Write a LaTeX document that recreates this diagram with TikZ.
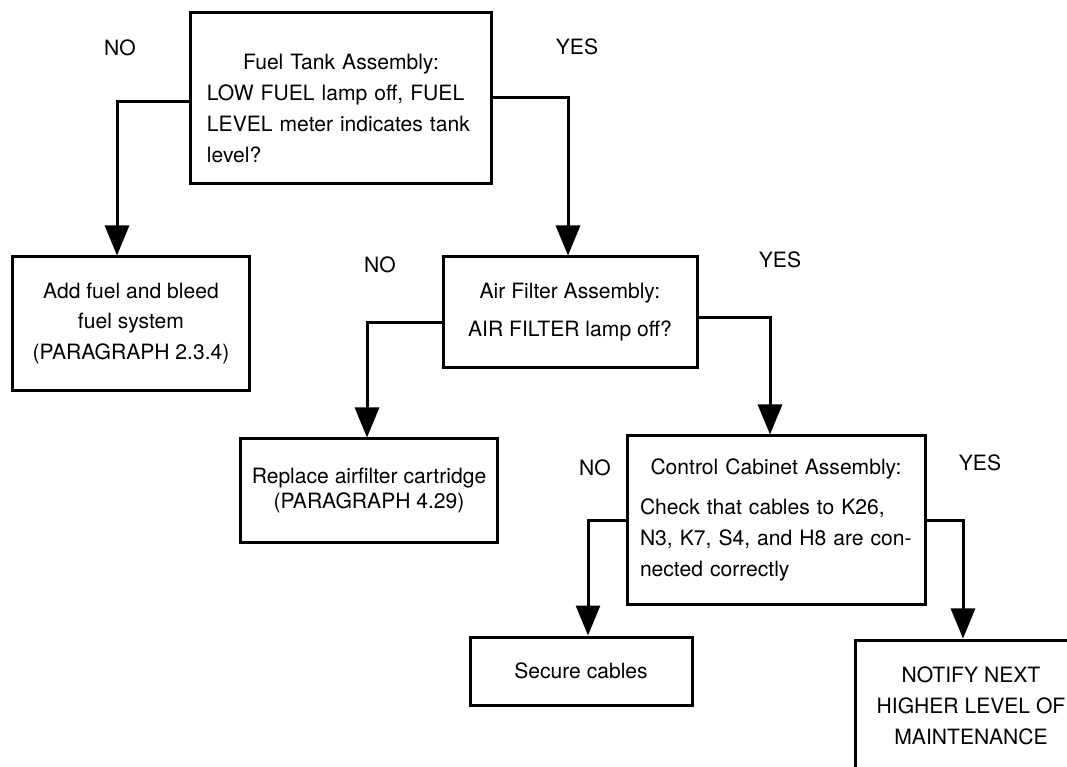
\documentclass[tikz,border=0pt]{standalone}
\usepackage{fontspec}
\setmainfont{TeX Gyre Heros}
\usetikzlibrary{calc,arrows.meta,positioning}

\newcommand{\chartFont}{\fontsize{15}{22}\selectfont}

\begin{document}
\begin{tikzpicture}[x=0.25mm,y=-0.25mm,
    box/.style={draw, line width=0.75mm, inner sep=0pt, font=\chartFont},
    flow/.style={line width=0.75mm, -{Triangle[width=6mm,length=7.5mm]}},
    answer/.style={font=\chartFont}]

\clip (0,0) rectangle (1067,767);

% decision boxes
\node[box, minimum width=75mm, minimum height=42.5mm, text width=67mm, align=left] (fuelTank) at (341,98)
    {\par\vspace*{1.5mm}{\centering Fuel Tank Assembly:\par}
     LOW FUEL lamp off, FUEL\\ LEVEL meter indicates tank\\ level?};
\node[box, minimum width=63.5mm, minimum height=27.5mm, align=center] (airFilter) at (570,312)
    {Air Filter Assembly:\\[1.6mm] AIR FILTER lamp off?};
\node[box, minimum width=74.5mm, minimum height=42mm, text width=68mm, align=left] (cabinet) at (776,520)
    {{\centering Control Cabinet Assembly:\par}\vspace{2.3mm}
     Check that cables to K26,\\ N3, K7, S4, and H8 are con-\\ nected correctly};

% action boxes
\node[box, minimum width=59mm, minimum height=33.25mm, align=center] (addFuel) at (131,323.5)
    {Add fuel and bleed\\ fuel system\\ (PARAGRAPH 2.3.4)};
\node[box, minimum width=64mm, minimum height=25.75mm, align=center,
      font=\fontsize{15}{17.8}\selectfont] (replaceCart) at (369,490.5)
    {Replace airfilter cartridge\\ (PARAGRAPH 4.29)};
\node[box, minimum width=55.5mm, minimum height=17mm] (secure) at (581,671) {Secure cables};
\node[box, minimum width=58mm, minimum height=33mm, align=center] (notify) at (971,706)
    {NOTIFY NEXT\\ HIGHER LEVEL OF\\ MAINTENANCE};

% answers
\node[answer] (noFuel) at (120,48) {NO};
\node[answer] (yesFuel) at (577,47) {YES};
\node[answer] (noAir) at (380,265) {NO};
\node[answer] (yesAir) at (780,260) {YES};
\node[answer] (noCab) at (595,468) {NO};
\node[answer] (yesCab) at (980,463) {YES};

% branches
\draw[flow] ($(fuelTank.west)+(0,4)$) -| ($(addFuel.north)+(-14,0)$);
\draw[flow] (fuelTank.east) -| ($(airFilter.north)+(-2,0)$);
\draw[flow] ($(airFilter.west)+(0,11)$) -| ($(replaceCart.north)+(-2,0)$);
\draw[flow] ($(airFilter.east)+(0,6)$) -| ($(cabinet.north)+(-6,0)$);
\draw[flow] (cabinet.west) -| ($(secure.north)+(7,0)$);
\draw[flow] (cabinet.east) -| ($(notify.north)+(-8,0)$);

\end{tikzpicture}
\end{document}
